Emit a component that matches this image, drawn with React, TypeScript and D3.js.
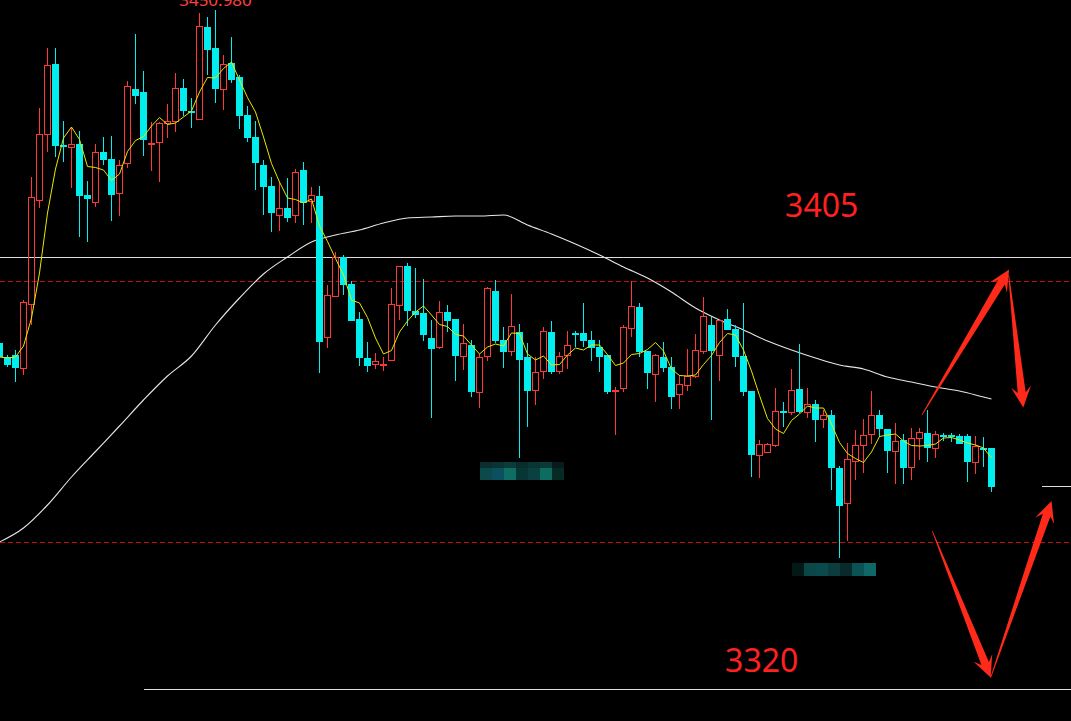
import React from "react";
import * as d3 from "d3";

const W = 1071;
const H = 721;

// OHLC per bar: [open, high, low, close]
const ohlc: [number, number, number, number][] = [
  [3384.4, 3385.0, 3381.0, 3381.6], [3381.6, 3382.0, 3379.6, 3380.0], [3382.0, 3383.0, 3376.6, 3379.4],
  [3379.2, 3393.0, 3378.0, 3392.6], [3392.0, 3417.6, 3388.0, 3413.6], [3412.8, 3431.4, 3411.4, 3426.2],
  [3426.0, 3443.4, 3422.6, 3440.0], [3440.2, 3443.4, 3421.6, 3423.8], [3424.0, 3428.8, 3420.6, 3423.6],
  [3423.4, 3427.6, 3415.4, 3424.2], [3424.2, 3426.8, 3405.6, 3413.8], [3414.0, 3416.8, 3404.6, 3413.2],
  [3412.4, 3424.2, 3411.6, 3422.6], [3422.6, 3425.6, 3420.0, 3421.0], [3421.2, 3425.8, 3408.8, 3414.0],
  [3414.2, 3421.0, 3409.8, 3420.0], [3420.2, 3436.8, 3419.4, 3435.8], [3435.2, 3446.2, 3432.2, 3433.8],
  [3434.6, 3438.8, 3421.8, 3425.0], [3424.0, 3428.6, 3418.8, 3424.4], [3424.4, 3428.6, 3416.6, 3428.4],
  [3428.2, 3432.2, 3425.4, 3428.8], [3428.6, 3438.4, 3426.6, 3435.4], [3435.4, 3437.2, 3429.8, 3430.8],
  [3430.8, 3433.4, 3427.4, 3430.4], [3429.0, 3450.4, 3429.0, 3447.8], [3447.6, 3449.6, 3438.0, 3443.0],
  [3443.4, 3450.98, 3432.4, 3435.2], [3435.0, 3442.0, 3431.0, 3440.2], [3440.4, 3445.6, 3436.4, 3437.0],
  [3437.6, 3438.0, 3427.2, 3429.8], [3430.0, 3431.8, 3424.6, 3425.4], [3425.6, 3428.8, 3415.0, 3420.4],
  [3420.0, 3421.0, 3410.0, 3415.6], [3415.8, 3417.6, 3406.6, 3410.4], [3409.8, 3416.6, 3406.8, 3411.4],
  [3411.4, 3417.4, 3408.6, 3409.4], [3409.8, 3419.2, 3408.4, 3418.6], [3419.0, 3420.6, 3408.0, 3412.4],
  [3412.6, 3415.6, 3408.4, 3414.0], [3413.8, 3415.8, 3378.4, 3384.6], [3385.4, 3396.0, 3383.4, 3394.0],
  [3393.6, 3402.6, 3393.6, 3401.6], [3401.6, 3402.0, 3394.0, 3396.0], [3396.2, 3396.8, 3388.8, 3388.8],
  [3389.2, 3390.6, 3379.8, 3381.4], [3381.4, 3384.6, 3378.6, 3379.8], [3380.0, 3382.4, 3379.2, 3380.8],
  [3379.8, 3381.6, 3378.8, 3380.2], [3380.8, 3395.4, 3380.8, 3392.2], [3391.8, 3399.8, 3389.0, 3399.8],
  [3399.8, 3400.4, 3387.8, 3390.8], [3390.8, 3399.4, 3389.4, 3390.0], [3390.4, 3397.2, 3384.8, 3386.0],
  [3385.4, 3389.0, 3369.4, 3383.2], [3383.4, 3392.8, 3383.2, 3390.6], [3390.6, 3392.0, 3386.6, 3388.8],
  [3389.2, 3389.2, 3376.8, 3381.8], [3381.6, 3388.2, 3379.0, 3384.4], [3384.0, 3385.0, 3373.6, 3374.6],
  [3374.4, 3382.2, 3371.4, 3381.6], [3381.6, 3395.6, 3380.8, 3395.4], [3394.8, 3397.0, 3384.4, 3384.8],
  [3385.0, 3387.6, 3379.4, 3382.6], [3382.6, 3394.2, 3381.8, 3387.8], [3386.6, 3388.2, 3361.4, 3381.0],
  [3381.6, 3384.4, 3367.6, 3374.8], [3374.8, 3381.6, 3372.0, 3378.6], [3378.6, 3387.6, 3377.2, 3386.8],
  [3386.6, 3388.8, 3378.2, 3378.6], [3378.6, 3382.6, 3378.2, 3381.8], [3381.8, 3386.8, 3379.2, 3384.0],
  [3386.4, 3386.8, 3383.6, 3386.0], [3386.4, 3392.4, 3383.6, 3384.8], [3385.0, 3386.8, 3380.8, 3383.4],
  [3383.6, 3385.0, 3378.6, 3381.6], [3382.0, 3382.0, 3374.2, 3374.6], [3374.6, 3375.6, 3366.0, 3375.0],
  [3375.2, 3388.0, 3374.6, 3387.6], [3387.2, 3396.8, 3385.6, 3391.8], [3391.6, 3392.4, 3381.6, 3382.6],
  [3382.8, 3382.8, 3375.2, 3378.4], [3378.0, 3382.2, 3372.6, 3382.0], [3381.6, 3384.6, 3378.6, 3379.4],
  [3379.6, 3381.6, 3371.2, 3373.6], [3374.0, 3378.0, 3371.2, 3376.2], [3375.8, 3383.2, 3374.8, 3377.8],
  [3377.6, 3386.2, 3377.4, 3383.0], [3382.6, 3393.6, 3382.2, 3389.8], [3388.0, 3389.6, 3369.0, 3382.8],
  [3381.8, 3389.2, 3376.8, 3389.0], [3389.2, 3391.2, 3387.0, 3387.0], [3387.2, 3388.0, 3379.6, 3381.6],
  [3381.8, 3392.4, 3373.8, 3374.6], [3374.8, 3374.8, 3357.6, 3362.0], [3361.8, 3365.0, 3357.4, 3364.2],
  [3362.4, 3364.4, 3362.4, 3364.2], [3363.8, 3375.4, 3363.6, 3370.8], [3370.8, 3372.6, 3367.6, 3370.4],
  [3370.4, 3379.2, 3370.0, 3375.0], [3375.2, 3384.2, 3370.4, 3370.6], [3370.4, 3375.4, 3369.4, 3372.2],
  [3372.2, 3373.0, 3364.6, 3369.0], [3369.0, 3371.0, 3367.4, 3370.0], [3370.0, 3371.0, 3355.0, 3359.4],
  [3359.4, 3359.8, 3341.4, 3351.8], [3352.2, 3364.4, 3344.8, 3361.2], [3360.6, 3367.0, 3357.0, 3364.0],
  [3363.8, 3369.2, 3358.4, 3366.0], [3366.0, 3374.8, 3364.2, 3370.0], [3370.0, 3371.0, 3365.6, 3367.2],
  [3367.2, 3367.2, 3358.4, 3362.8], [3362.6, 3368.4, 3356.2, 3364.8], [3365.0, 3366.2, 3356.2, 3359.4],
  [3359.4, 3367.4, 3357.0, 3365.4], [3365.2, 3367.4, 3361.0, 3366.6], [3366.4, 3371.0, 3360.6, 3363.4],
  [3363.2, 3366.8, 3361.4, 3366.2], [3366.0, 3366.4, 3364.8, 3365.6], [3366.0, 3366.4, 3364.6, 3365.6],
  [3365.8, 3366.2, 3364.2, 3364.2], [3365.8, 3366.2, 3356.6, 3360.6], [3360.4, 3365.8, 3358.2, 3363.8],
  [3363.4, 3365.6, 3359.6, 3363.0], [3363.4, 3363.4, 3354.6, 3355.6],
];

// short moving average (yellow), one value per bar
const maShort: number[] = [
  3381.6, 3381.4, 3381.6, 3383.8, 3389.4, 3398.4, 3410.4, 3419.2, 3425.4, 3427.6,
  3425.1, 3419.7, 3419.5, 3419.0, 3416.9, 3418.2, 3422.7, 3424.9, 3425.7, 3427.8,
  3429.5, 3428.1, 3428.4, 3429.6, 3430.8, 3434.6, 3437.5, 3437.4, 3439.3, 3440.6,
  3437.0, 3433.5, 3430.6, 3425.6, 3420.3, 3416.6, 3413.4, 3413.1, 3412.4, 3413.2,
  3407.8, 3404.7, 3401.3, 3398.0, 3393.0, 3392.4, 3389.5, 3385.4, 3382.2, 3382.9,
  3386.6, 3388.8, 3390.6, 3391.8, 3390.0, 3388.1, 3387.7, 3386.1, 3385.8, 3384.0,
  3382.2, 3383.6, 3384.2, 3383.8, 3386.4, 3386.3, 3382.2, 3381.0, 3381.8, 3380.0,
  3380.1, 3382.0, 3383.4, 3383.0, 3384.0, 3384.0, 3382.1, 3379.9, 3380.4, 3382.1,
  3382.3, 3383.1, 3384.5, 3382.8, 3379.2, 3377.9, 3377.8, 3378.0, 3380.1, 3381.9,
  3384.5, 3386.3, 3386.0, 3383.0, 3378.8, 3373.9, 3369.3, 3367.2, 3366.3, 3368.9,
  3370.2, 3371.8, 3371.4, 3371.4, 3368.2, 3364.5, 3362.3, 3361.3, 3360.5, 3362.6,
  3365.7, 3366.0, 3366.2, 3364.8, 3363.9, 3363.8, 3363.9, 3364.2, 3365.4, 3365.5,
  3365.0, 3364.4, 3364.0, 3363.4, 3361.4,
];

// long moving average (white), read at [bar index, value]
const maLong: [number, number][] = [
  [0, 3344.6], [3, 3347.4], [6, 3352.0], [9, 3357.6], [12, 3362.7], [15, 3367.8], [18, 3373.0],
  [21, 3377.8], [24, 3381.8], [27, 3388.0], [30, 3393.4], [33, 3398.2], [36, 3401.6], [39, 3404.6],
  [42, 3406.0], [45, 3407.0], [48, 3408.4], [51, 3409.4], [54, 3409.6], [57, 3409.8], [60, 3409.8],
  [63, 3410.0], [66, 3408.0], [69, 3406.2], [72, 3404.2], [75, 3402.0], [78, 3399.6], [81, 3397.4],
  [84, 3394.6], [87, 3391.4], [90, 3389.0], [93, 3387.0], [96, 3384.8], [99, 3383.0], [102, 3381.4],
  [105, 3380.0], [108, 3379.2], [111, 3377.6], [114, 3376.6], [117, 3375.6], [120, 3374.8],
  [123, 3373.6], [124, 3373.2],
];

const highLabel = "3450.980";
const highIndex = 27;

// horizontal levels
const solidLevels: { price: number; from: number | null }[] = [
  { price: 3401.6, from: null },
  { price: 3315.2, from: 18 },
  { price: 3355.8, from: 130.3 },
];
const dashedLevels: number[] = [3396.8, 3344.6];

const bigLabels: { text: string; index: number; price: number }[] = [
  { text: "3405", index: 98.2, price: 3409.6 },
  { text: "3320", index: 90.7, price: 3318.6 },
];

// annotation arrows: [tailIndex, tailPrice, tipIndex, tipPrice]
const arrows: [number, number, number, number][] = [
  [115.3, 3370.0, 126.2, 3399.1],
  [126.15, 3398.0, 127.98, 3371.5],
  [116.6, 3346.8, 123.9, 3317.5],
  [123.9, 3317.5, 131.5, 3352.8],
];

// mosaic blocks (censored labels)
const mosaics: { index: number; price: number; rows: string[][] }[] = [
  {
    index: 60.1,
    price: 3360.6,
    rows: [
      ["#0b2e2e", "#0a3434", "#0b3a3a", "#092c2c", "#0a3535", "#0c3838", "#061c1c"],
      ["#0b4a4a", "#0b4f60", "#0f6e64", "#073636", "#0a4040", "#0e6b60", "#062a24"],
    ],
  },
  {
    index: 99.1,
    price: 3340.4,
    rows: [["#051818", "#0a4848", "#0a4a4a", "#0c3c3c", "#082a2a", "#0b5252", "#0e6868"]],
  },
];

const RED = "#ff3838";
const CYAN = "#00eeee";
const ARROW = "#ff2a1a";

function arrowPath(x0: number, y0: number, x1: number, y1: number): string {
  const dx = x1 - x0;
  const dy = y1 - y0;
  const L = Math.hypot(dx, dy);
  const ux = dx / L;
  const uy = dy / L;
  const nx = -uy;
  const ny = ux;
  const neck = L - 15;
  const wingBack = L - 21;
  const p = (d: number, w: number) => [x0 + ux * d + nx * w, y0 + uy * d + ny * w];
  const pts = [
    p(0, 0.4),
    p(neck, 4),
    p(wingBack, 10),
    [x1, y1],
    p(wingBack, -10),
    p(neck, -4),
    p(0, -0.4),
  ];
  return "M" + pts.map((q) => q[0].toFixed(1) + "," + q[1].toFixed(1)).join("L") + "Z";
}

export default function App() {
  const x = d3.scaleLinear().domain([0, 124]).range([-0.5, 991.5]);
  const y = d3.scaleLinear().domain([3453, 3308.8]).range([0, 721]);

  const yellowLine = d3
    .line<number>()
    .x((_, i) => x(i))
    .y((v) => y(v));
  const whiteLine = d3
    .line<[number, number]>()
    .x((d) => x(d[0]))
    .y((d) => y(d[1]))
    .curve(d3.curveMonotoneX);

  return (
    <svg
      width={W}
      height={H}
      style={{ position: "fixed", left: 0, top: 0, background: "#000", display: "block" }}
    >
      <rect x={0} y={0} width={W} height={H} fill="#000" />

      {/* level lines */}
      {solidLevels.map((l, i) => {
        const yy = Math.round(y(l.price)) + 0.5;
        return (
          <line
            key={"s" + i}
            x1={l.from === null ? 0 : x(l.from)}
            x2={W}
            y1={yy}
            y2={yy}
            stroke="#dcdcdc"
            strokeWidth={1}
            shapeRendering="crispEdges"
          />
        );
      })}
      {dashedLevels.map((p, i) => {
        const yy = Math.round(y(p)) + 0.5;
        return (
          <line
            key={"d" + i}
            x1={0}
            x2={W}
            y1={yy}
            y2={yy}
            stroke="#c01010"
            strokeWidth={1}
            strokeDasharray="5,3"
            shapeRendering="crispEdges"
          />
        );
      })}

      {/* long MA */}
      <path d={whiteLine(maLong) || ""} fill="none" stroke="#e6e6e6" strokeWidth={1.1} />

      {/* candles */}
      <g shapeRendering="crispEdges">
        {ohlc.map((c, i) => {
          const [o, h, l, cl] = c;
          const cx = x(i);
          const left = Math.round(cx - 3.5);
          const wx = left + 3.5;
          const yTop = Math.round(y(Math.max(o, cl)));
          const yBot = Math.round(y(Math.min(o, cl)));
          const yH = Math.round(y(h));
          const yL = Math.round(y(l));
          const up = cl >= o;
          if (up) {
            return (
              <g key={i}>
                {yH < yTop && <line x1={wx} x2={wx} y1={yH} y2={yTop} stroke={RED} strokeWidth={1} />}
                {yL > yBot && <line x1={wx} x2={wx} y1={yBot} y2={yL} stroke={RED} strokeWidth={1} />}
                <rect
                  x={left + 0.5}
                  y={yTop + 0.5}
                  width={6}
                  height={Math.max(0, yBot - yTop - 1)}
                  fill="none"
                  stroke={RED}
                  strokeWidth={1}
                />
              </g>
            );
          }
          return (
            <g key={i}>
              <line x1={wx} x2={wx} y1={yH} y2={yL} stroke={CYAN} strokeWidth={1} />
              <rect x={left} y={yTop} width={7} height={Math.max(1, yBot - yTop)} fill={CYAN} />
            </g>
          );
        })}
      </g>

      {/* short MA */}
      <path d={yellowLine(maShort) || ""} fill="none" stroke="#e8e800" strokeWidth={1} />

      {/* high label */}
      <text
        x={x(highIndex)}
        y={y(ohlc[highIndex][1]) - 4}
        textAnchor="middle"
        fill="#ff4040"
        fontFamily="'Noto Sans', 'DejaVu Sans', sans-serif"
        fontSize={17}
      >
        {highLabel}
      </text>

      {/* mosaics */}
      {mosaics.map((m, mi) => (
        <g key={"m" + mi} shapeRendering="crispEdges">
          {m.rows.map((row, ri) =>
            row.map((col, ci) => (
              <rect
                key={ri + "-" + ci}
                x={x(m.index) + ci * 12}
                y={y(m.price) + (m.rows.length > 1 && ri > 0 ? 6 : 0)}
                width={12}
                height={m.rows.length > 1 ? (ri === 0 ? 6 : 12) : 13}
                fill={col}
              />
            ))
          )}
        </g>
      ))}

      {/* arrows */}
      {arrows.map((a, i) => (
        <path key={"a" + i} d={arrowPath(x(a[0]), y(a[1]), x(a[2]), y(a[3]))} fill={ARROW} />
      ))}

      {/* big labels */}
      {bigLabels.map((b, i) => (
        <text
          key={"b" + i}
          x={x(b.index)}
          y={y(b.price)}
          fill="#ff2020"
          fontFamily="'Noto Sans', 'DejaVu Sans', sans-serif"
          fontSize={32}
        >
          {b.text}
        </text>
      ))}
    </svg>
  );
}
